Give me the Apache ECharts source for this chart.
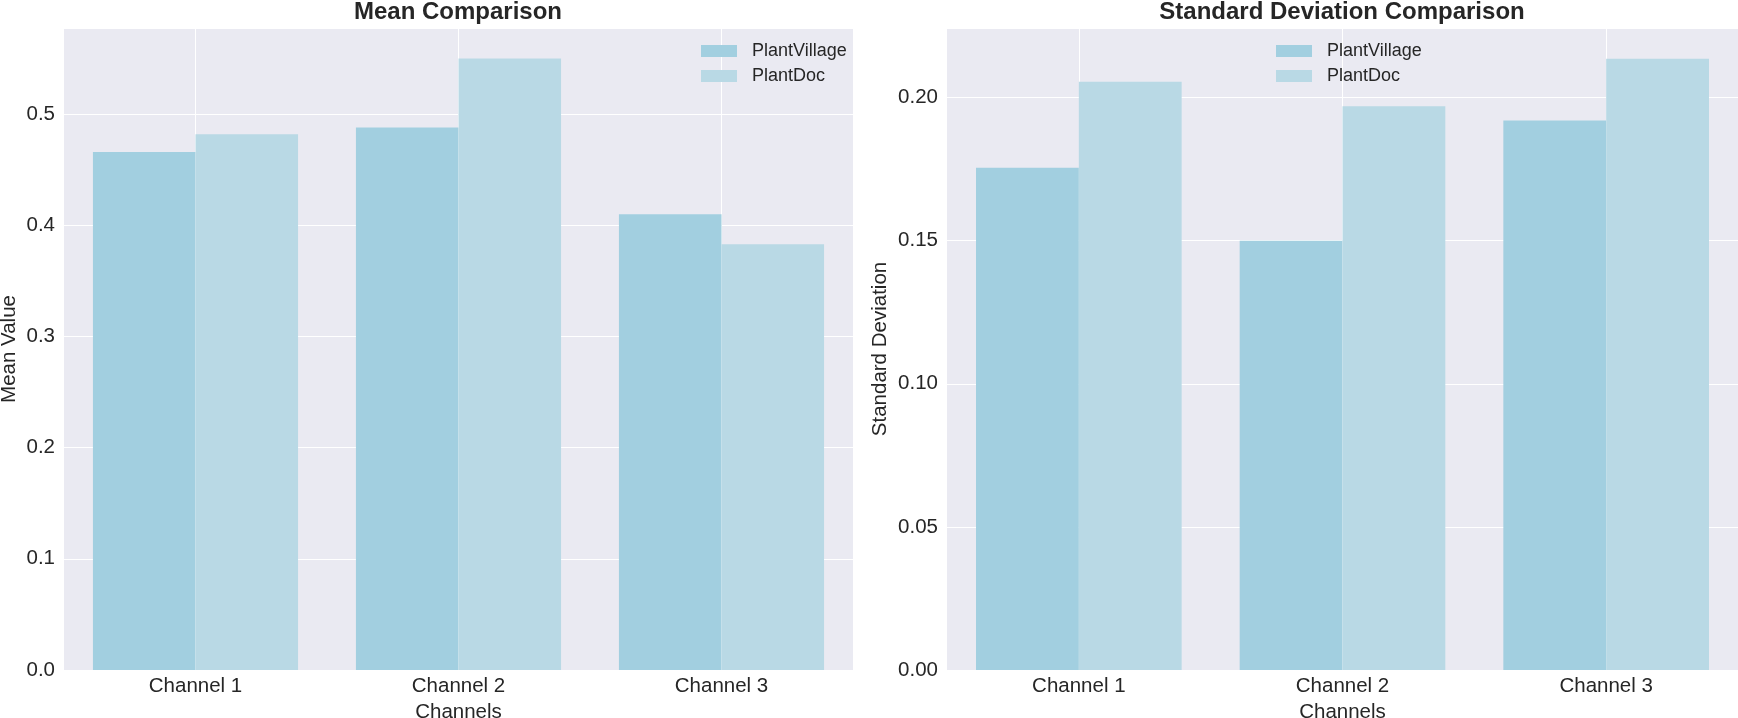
<!DOCTYPE html>
<html>
<head>
<meta charset="utf-8">
<script src="https://cdn.jsdelivr.net/npm/echarts@6/dist/echarts.min.js"></script>
<style>
html, body { margin: 0; padding: 0; background: #fff; width: 100%; height: 100%; overflow: hidden; }
#chart { width: 1738px; height: 718px; }
</style>
</head>
<body>
<div id="chart"></div>
<script>
var channels = ['Channel 1', 'Channel 2', 'Channel 3'];
var datasets = ['PlantVillage', 'PlantDoc'];
var meanPlantVillage = [0.466, 0.488, 0.410];
var meanPlantDoc = [0.482, 0.550, 0.383];
var stdPlantVillage = [0.1755, 0.150, 0.1920];
var stdPlantDoc = [0.2055, 0.1970, 0.2136];

var colors = ['#a2cfe0', '#b9d9e5'];
var font = 'Liberation Sans, Arial, sans-serif';
var textColor = '#262626';

function xAxis(grid) {
    return {
        type: 'category', gridIndex: grid, data: channels,
        name: 'Channels', nameLocation: 'middle', nameGap: 30,
        nameTextStyle: { fontFamily: font, fontSize: 20.5, color: textColor },
        axisLine: { show: false }, axisTick: { show: false },
        axisLabel: { fontFamily: font, fontSize: 20.5, color: textColor, margin: 6 },
        splitLine: { show: true, alignWithLabel: true, lineStyle: { color: '#ffffff', width: 1 } }
    };
}

function yAxis(grid, name, max, step, digits, gap) {
    return {
        type: 'value', gridIndex: grid, min: 0, max: max, interval: step,
        name: name, nameLocation: 'middle', nameGap: gap,
        nameTextStyle: { fontFamily: font, fontSize: 20.5, color: textColor },
        axisLine: { show: false }, axisTick: { show: false },
        axisLabel: {
            fontFamily: font, fontSize: 20.5, color: textColor, margin: 9,
            showMaxLabel: false,
            formatter: function (v) { return v.toFixed(digits); }
        },
        splitLine: { show: true, lineStyle: { color: '#ffffff', width: 1 } }
    };
}

function legend(left) {
    return {
        data: datasets, left: left, top: 37, orient: 'vertical',
        icon: 'rect', itemWidth: 36, itemHeight: 12, itemGap: 7,
        textStyle: { fontFamily: font, fontSize: 18, color: textColor, padding: [0, 0, 0, 10] }
    };
}

function bars(name, values, grid, color) {
    return {
        type: 'bar', name: name, data: values,
        xAxisIndex: grid, yAxisIndex: grid,
        barGap: '0%', barCategoryGap: '22%',
        itemStyle: { color: color },
        emphasis: { disabled: true }
    };
}

var chart = echarts.init(document.getElementById('chart'), null, { renderer: 'canvas' });
chart.setOption({
    animation: false,
    color: colors,
    title: [
        { text: 'Mean Comparison', left: 458, top: 0, padding: 0, textAlign: 'center',
          textStyle: { fontFamily: font, fontSize: 24, fontWeight: 'bold', color: textColor } },
        { text: 'Standard Deviation Comparison', left: 1342, top: 0, padding: 0, textAlign: 'center',
          textStyle: { fontFamily: font, fontSize: 24, fontWeight: 'bold', color: textColor } }
    ],
    legend: [legend(696), legend(1271)],
    grid: [
        { left: 64, top: 28, width: 789, height: 642, outerBoundsMode: 'none', containLabel: false,
          show: true, backgroundColor: '#eaeaf2', borderWidth: 0 },
        { left: 947, top: 28, width: 791, height: 642, outerBoundsMode: 'none', containLabel: false,
          show: true, backgroundColor: '#eaeaf2', borderWidth: 0 }
    ],
    xAxis: [xAxis(0), xAxis(1)],
    yAxis: [
        yAxis(0, 'Mean Value', 0.5775, 0.1, 1, 44),
        yAxis(1, 'Standard Deviation', 0.2243, 0.05, 2, 56)
    ],
    series: [
        bars('PlantVillage', meanPlantVillage, 0, colors[0]),
        bars('PlantDoc', meanPlantDoc, 0, colors[1]),
        bars('PlantVillage', stdPlantVillage, 1, colors[0]),
        bars('PlantDoc', stdPlantDoc, 1, colors[1])
    ]
});
window.addEventListener('resize', function () { chart.resize(); });
</script>
</body>
</html>
